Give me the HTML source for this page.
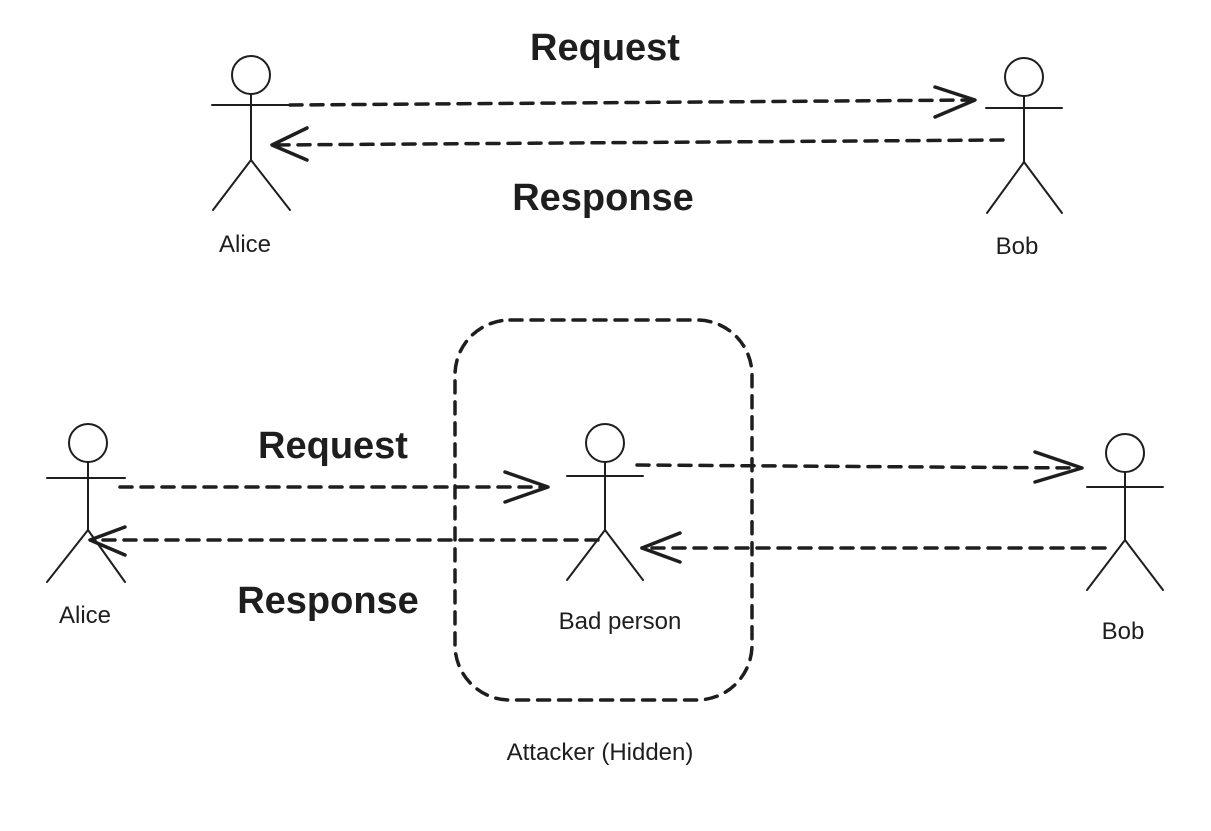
<!DOCTYPE html>
<html><head><meta charset="utf-8"><style>
html,body{margin:0;padding:0;background:#fff;width:1211px;height:831px;overflow:hidden}
svg text{font-family:"Liberation Sans",sans-serif;fill:#1e1e1e}
</style></head><body>
<svg width="1211" height="831" viewBox="0 0 1211 831" xmlns="http://www.w3.org/2000/svg">
<g fill="none" stroke="#1e1e1e" stroke-width="2" stroke-linecap="round">
<!-- top Alice -->
<circle cx="251" cy="75" r="19"/>
<line x1="212" y1="105" x2="290" y2="105"/>
<line x1="251" y1="94" x2="251" y2="160"/>
<line x1="251" y1="160" x2="213" y2="210"/>
<line x1="251" y1="160" x2="290" y2="210"/>
<!-- top Bob -->
<circle cx="1024" cy="77" r="19"/>
<line x1="986" y1="108" x2="1062" y2="108"/>
<line x1="1024" y1="96" x2="1024" y2="162"/>
<line x1="1024" y1="162" x2="987" y2="213"/>
<line x1="1024" y1="162" x2="1062" y2="213"/>
<!-- bottom Alice -->
<circle cx="88" cy="443" r="19"/>
<line x1="47" y1="478" x2="125" y2="478"/>
<line x1="88" y1="462" x2="88" y2="530"/>
<line x1="88" y1="530" x2="47" y2="582"/>
<line x1="88" y1="530" x2="125" y2="582"/>
<!-- bad person -->
<circle cx="605" cy="443" r="19"/>
<line x1="567" y1="476" x2="643" y2="476"/>
<line x1="605" y1="462" x2="605" y2="530"/>
<line x1="605" y1="530" x2="567" y2="580"/>
<line x1="605" y1="530" x2="643" y2="580"/>
<!-- bottom Bob -->
<circle cx="1125" cy="453" r="19"/>
<line x1="1087" y1="487" x2="1163" y2="487"/>
<line x1="1125" y1="472" x2="1125" y2="540"/>
<line x1="1125" y1="540" x2="1087" y2="590"/>
<line x1="1125" y1="540" x2="1163" y2="590"/>
</g>
<g fill="none" stroke="#1e1e1e" stroke-width="3.5" stroke-linecap="round" stroke-linejoin="round">
<g stroke-dasharray="12 9">
<line x1="290" y1="105" x2="975" y2="100"/>
<line x1="1003" y1="140" x2="272" y2="145"/>
<line x1="120" y1="487" x2="546" y2="487"/>
<line x1="598" y1="540" x2="92" y2="540"/>
<line x1="637" y1="465" x2="1080" y2="468"/>
<line x1="1105" y1="548" x2="642" y2="548"/>
<rect x="455" y="320" width="297" height="380" rx="55"/>
</g>
<polyline points="935,87 975,100 935,117"/>
<polyline points="307,128 272,145 307,160"/>
<polyline points="505,472 548,487 505,502"/>
<polyline points="125,527 90,540 125,555"/>
<polyline points="1035,452 1082,468 1035,482"/>
<polyline points="680,533 642,548 680,562"/>
</g>
<g text-anchor="middle">
<text x="605" y="60" font-size="38" font-weight="bold">Request</text>
<text x="603" y="210" font-size="38" font-weight="bold">Response</text>
<text x="245" y="252" font-size="24">Alice</text>
<text x="1017" y="254" font-size="24">Bob</text>
<text x="333" y="458" font-size="38" font-weight="bold">Request</text>
<text x="328" y="613" font-size="38" font-weight="bold">Response</text>
<text x="85" y="623" font-size="24">Alice</text>
<text x="620" y="629" font-size="24">Bad person</text>
<text x="1123" y="639" font-size="24">Bob</text>
<text x="600" y="760" font-size="24">Attacker (Hidden)</text>
</g>
</svg>
</body></html>
